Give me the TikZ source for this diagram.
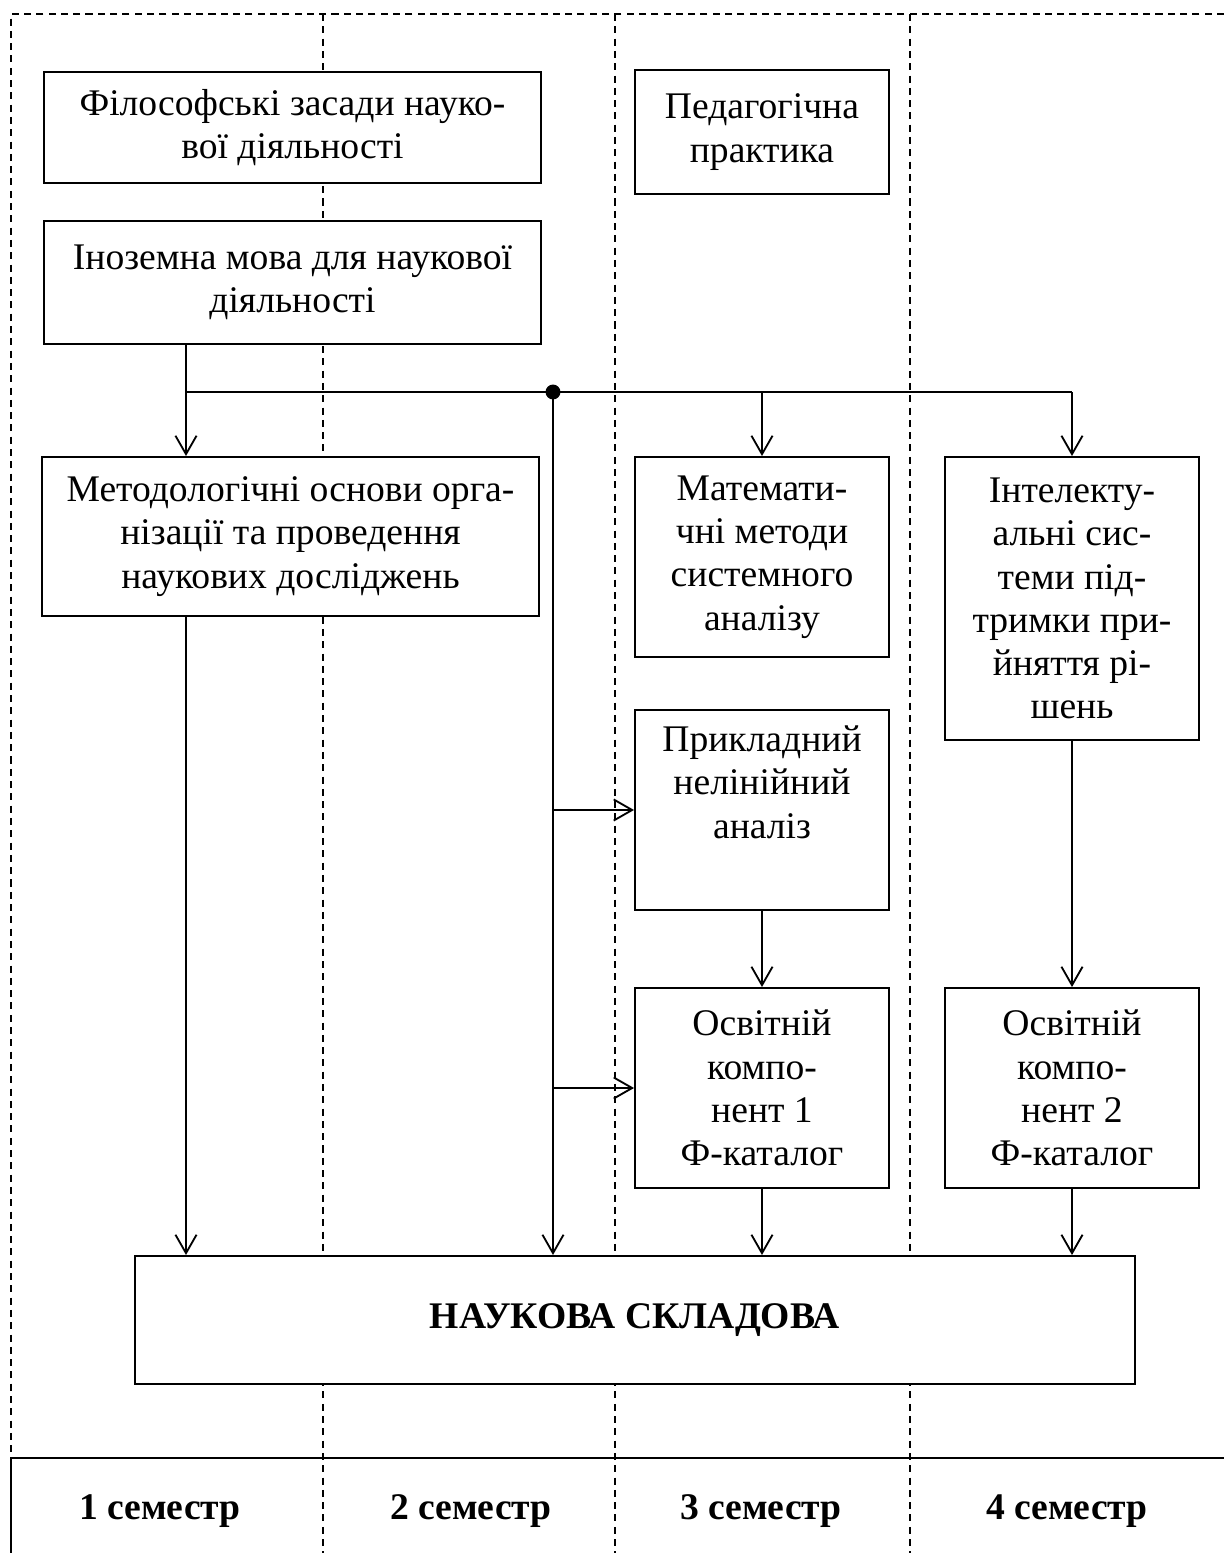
\documentclass[tikz,border=0pt]{standalone}
\usepackage{fontspec}
\setmainfont{Liberation Serif}
\usepackage{tikz}
\usetikzlibrary{
  arrows.meta,
  calc
}
\definecolor{PlanBlack}{HTML}{000000}
\tikzset{
  every picture/.style = {line join=miter, line cap=butt},
  every node/.style = {font=\fontsize{21.4}{24.6}\selectfont, text=PlanBlack},
  box size/.style 2 args = {
    minimum width=#1*0.02cm,
    minimum height=#2*0.02cm
  },
  course/.style = {
    draw=PlanBlack,
    fill=white,
    line width=1.1pt,
    align=center,
    inner sep=0pt
  },
  course main/.style = {course, font=\fontsize{21.4}{24.6}\selectfont\bfseries},
  junction/.style = {circle, fill=PlanBlack, inner sep=0pt, minimum size=8.5pt},
  link/.style = {draw=PlanBlack, line width=1.05pt},
  flow/.style = {link, -{Straight Barb[length=10.5pt,width=12pt,line width=1.05pt]}},
  guide dashed/.style = {draw=PlanBlack, line width=0.9pt, dash pattern=on 4pt off 3pt},
  frame solid/.style = {draw=PlanBlack, line width=1.1pt},
  term label/.style = {font=\fontsize{21.4}{24.6}\selectfont\bfseries},
}

\begin{document}
\begin{tikzpicture}[x=0.02cm,y=-0.02cm]
  \useasboundingbox (0,0) rectangle (1224,1553);

  % semester columns
  \draw[guide dashed] (1224,14) -- (11,14) -- (11,1458);
  \foreach \x in {323,615,910} {
    \draw[guide dashed] (\x,14) -- (\x,1553);
  }
  \draw[frame solid] (11,1553) -- (11,1458) -- (1224,1458);

  \node[course, box size={497}{111}] (phil) at (292.5,127.5) {Філософські засади науко-\\вої діяльності};
  \node[course, box size={497}{123}] (lang) at (292.5,282.5) {Іноземна мова для наукової\\діяльності};
  \node[course, box size={254}{124}] (pedpr) at (762,132) {Педагогічна\\практика};
  \node[course, box size={497}{159}] (method) at (290.5,536.5) {Методологічні основи орга-\\нізації та проведення\\наукових досліджень};
  \node[course, box size={254}{200}] (math) at (762,557) {Математи-\\чні методи\\системного\\аналізу};
  \node[course, box size={254}{283}] (intel) at (1072,598.5) {Інтелекту-\\альні сис-\\теми під-\\тримки при-\\йняття рі-\\шень};
  \node[course, box size={254}{200}] (nonlin) at (762,810) {Прикладний\\нелінійний\\аналіз\\\strut};
  \node[course, box size={254}{200}] (edu1) at (762,1088) {Освітній\\компо-\\нент 1\\Ф-каталог};
  \node[course, box size={254}{200}] (edu2) at (1072,1088) {Освітній\\компо-\\нент 2\\Ф-каталог};
  \node[course main, box size={1000}{128}] (science) at (635,1320) {НАУКОВА СКЛАДОВА};

  \node[term label] (sem1) at (160,1511) {1 семестр};
  \node[term label] (sem2) at (471,1511) {2 семестр};
  \node[term label] (sem3) at (761,1511) {3 семестр};
  \node[term label] (sem4) at (1067,1511) {4 семестр};

  \coordinate (split) at (186,392);
  \node[junction] (hub) at (553,392) {};

  \draw[link] (lang.south -| split) -- (split) -- (split -| intel);
  \draw[flow] (split) -- (method.north -| split);
  \draw[flow] (split -| math) -- (math.north);
  \draw[flow] (split -| intel) -- (intel.north);

  \draw[flow] (hub.center) -- (science.north -| hub);
  \draw[flow] (nonlin.west -| hub) -- (nonlin.west);
  \draw[flow] (edu1.west -| hub) -- (edu1.west);

  \draw[flow] (method.south -| split) -- (science.north -| split);
  \draw[flow] (nonlin.south) -- (edu1.north);
  \draw[flow] (edu1.south) -- (science.north -| edu1);
  \draw[flow] (intel.south) -- (edu2.north);
  \draw[flow] (edu2.south) -- (science.north -| edu2);
\end{tikzpicture}
\end{document}
